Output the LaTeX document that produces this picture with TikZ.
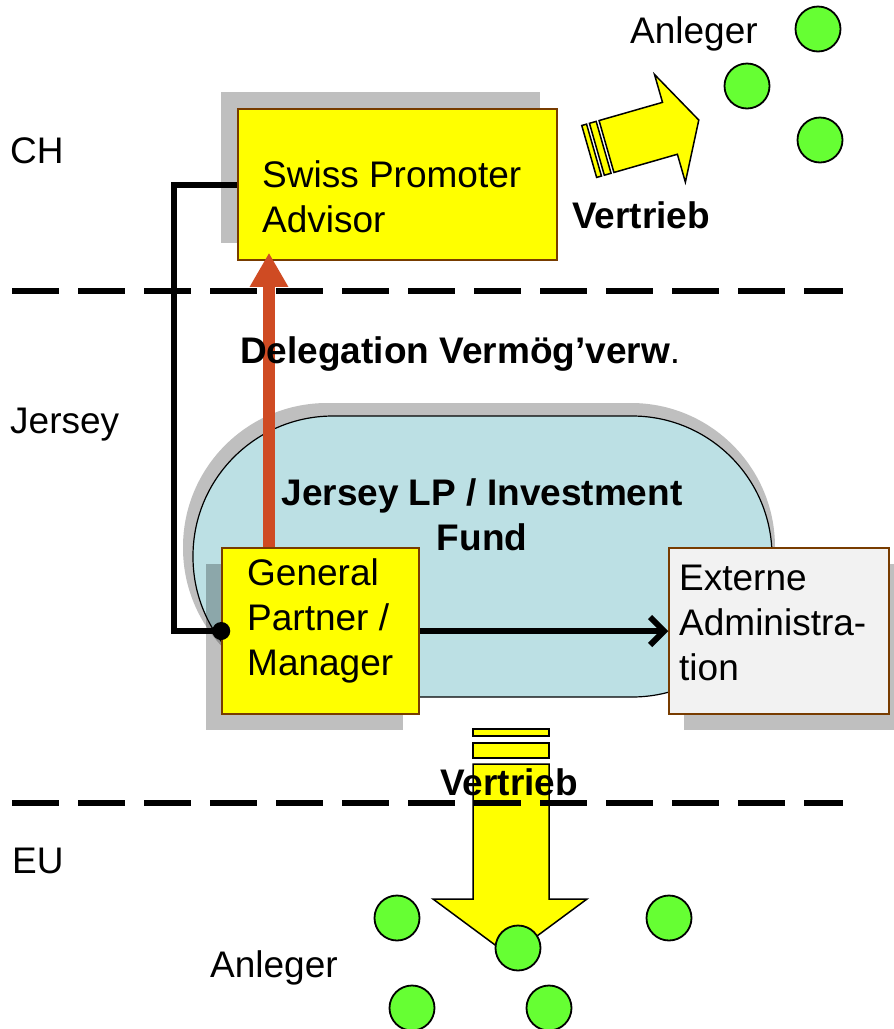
\documentclass[tikz,border=0pt]{standalone}
\usepackage{fontspec}
\setmainfont{Liberation Sans}
\usetikzlibrary{arrows.meta,positioning,calc}

\definecolor{promoyellow}{RGB}{255,255,0}
\definecolor{boxedge}{RGB}{120,60,0}
\definecolor{fundblue}{RGB}{188,224,228}
\definecolor{adminfill}{RGB}{242,242,242}
\definecolor{delegred}{RGB}{207,75,35}
\definecolor{investgreen}{RGB}{102,255,51}

\begin{document}
\begin{tikzpicture}[x=1pt, y=-1pt, font=\fontsize{37}{45}\selectfont,
    box/.style={draw=boxedge, line width=1.5pt, fill=promoyellow, inner sep=0pt},
    admin/.style={box, fill=adminfill},
    shadowbox/.style={fill=black, fill opacity=0.25, inner sep=0pt},
    fund/.style={draw=black, line width=1.2pt, fill=fundblue, rounded corners=140pt, inner sep=0pt},
    txt/.style={anchor=north west, align=left, inner sep=0pt},
    lbl/.style={anchor=base west, inner sep=0pt},
    investor/.style={circle, draw=black, line width=1.8pt, fill=investgreen, minimum size=45pt, inner sep=0pt},
    flow/.style={draw=black, line width=1.5pt, fill=promoyellow, line join=miter},
    border/.style={line width=6pt, dash pattern=on 47pt off 19pt},
    conn/.style={line width=6pt},
    deleg/.style={draw=delegred, line width=12pt, -{Triangle[length=34pt,width=36pt]}, shorten >=-8pt}]
  \useasboundingbox (0,0) rectangle (894,1029);

  % distribution arrow into the EU
  \filldraw[flow] (473,764) -- (473,899) -- (433,899) -- (510,956) -- (587,899) -- (549,899) -- (549,764) -- cycle;
  \filldraw[flow] (473,743) rectangle (549,758);
  \filldraw[flow] (473,729) rectangle (549,736);

  % borders CH / Jersey / EU
  \draw[border] (12,291) -- (843,291);
  \draw[border] (12,803) -- (843,803);

  % promoter in CH
  \node[shadowbox, minimum width=319, minimum height=151] (swissshade) at (380.5,167.5) {};
  \node[box, minimum width=319, minimum height=151] (swiss) at (397.5,184.5) {};

  % the fund
  \node[shadowbox, rounded corners=144pt, minimum width=592, minimum height=289] (fundshade) at (479,547.5) {};
  \node[fund, minimum width=579, minimum height=281] (fund) at (482.5,556.5) {};

  \node[shadowbox, minimum width=197, minimum height=166] (gpshade) at (304.5,647) {};
  \node[box, minimum width=197, minimum height=166] (gp) at (320.5,631) {};
  \node[shadowbox, minimum width=220, minimum height=166] (extshade) at (794,647) {};
  \node[admin, minimum width=220, minimum height=166] (ext) at (779,631) {};

  % links
  \draw[conn] (swiss.west) -- ++(-63,0) |- (gp.west);
  \fill (gp.west) circle (9pt);
  \draw[deleg] ([xshift=-51.5pt]gp.north) -- ([xshift=-51.5pt]gp.north |- swiss.south);
  \draw[conn, -{Straight Barb[length=14pt,width=28pt]}] (gp.east) -- (ext.west);

  % distribution arrow in CH
  \begin{scope}[shift={(606.5,146.5)}, rotate=16]
    \filldraw[flow] (0,-27) -- (66,-27) -- (66,-56) -- (96,0) -- (66,56) -- (66,27) -- (0,27) -- cycle;
    \filldraw[flow] (-10,-27) rectangle (-3,27);
    \filldraw[flow] (-18,-27) rectangle (-13,27);
  \end{scope}

  % investors
  \foreach \pos [count=\i] in {(818,29),(747,86),(820,140),(397,918),(669,918),(518,948),(412,1008),(549,1008)}
    \node[investor] (inv\i) at \pos {};

  % texts
  \node[txt] (swisstxt) at (262,160) {Swiss Promoter\\Advisor};
  \node[txt] (gptxt) at (247,558) {General\\Partner /\\Manager};
  \node[txt] (exttxt) at (679,565) {Externe\\Administra-\\tion};
  \node[txt, anchor=north, align=center, font=\fontsize{37}{45}\selectfont\bfseries] (fundtxt) at (482,478) {Jersey LP / Investment\\Fund};

  \node[lbl] (ch) at (10,163) {CH};
  \node[lbl] (jersey) at (10,433) {Jersey};
  \node[lbl] (eu) at (12,873) {EU};
  \node[lbl] (anlegertop) at (630,43) {Anleger};
  \node[lbl] (anlegerbot) at (210,977) {Anleger};
  \node[lbl] (vertriebtop) at (572,228) {\textbf{Vertrieb}};
  \node[lbl] (delegtxt) at (240,363) {\textbf{Delegation Vermög’verw}.};
  \node[lbl] (vertriebbot) at (440,795) {\textbf{Vertrieb}};
\end{tikzpicture}
\end{document}
